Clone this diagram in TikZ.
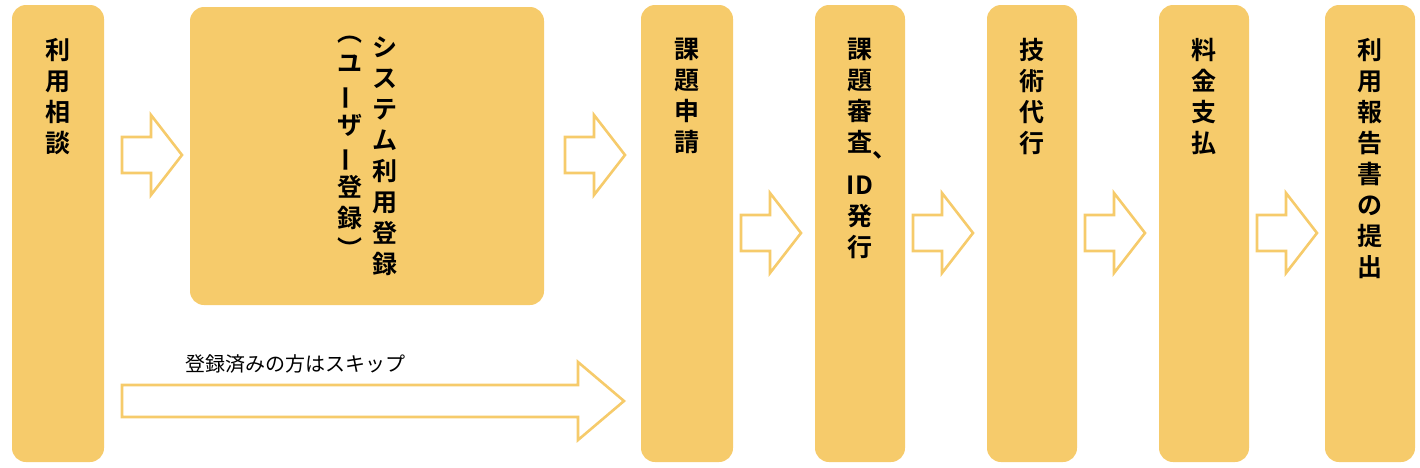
\documentclass[tikz,border=0pt]{standalone}
\usepackage{fontspec}
\usepackage{graphicx}
\newfontfamily\jpb{Noto Sans CJK JP Bold}
\newfontfamily\jp{Noto Sans CJK JP}
\definecolor{yel}{HTML}{F6CB6B}
\tikzset{
 box/.style={fill=yel,draw=none,rounded corners=14pt},
 vt/.style={anchor=north,align=center,font=\jpb\fontsize{25}{31}\selectfont,inner sep=0pt},
 barrow/.style={draw=yel,line width=2.6pt,fill=white,line join=miter}
}
\newcommand{\vl}{\rotatebox[origin=c]{90}{ー}}
\begin{document}
\begin{tikzpicture}[x=1pt,y=-1pt]
\useasboundingbox (0,0) rectangle (1420,467);
\fill[box] (12,5) rectangle (104,462);
\fill[box] (190,7) rectangle (544,305);
\fill[box] (641,5) rectangle (733,462);
\fill[box] (815,5) rectangle (905,462);
\fill[box] (987,5) rectangle (1077,462);
\fill[box] (1159,5) rectangle (1249,462);
\fill[box] (1325,5) rectangle (1415,462);
\node[vt] (t1) at (58,38) {利\\用\\相\\談};
\node[vt] (t2a) at (385,36) {シ\\ス\\テ\\ム\\利\\用\\登\\録};
\node[vt] (t2b) at (350,36) {︵\\ユ\\\vl\\ザ\\\vl\\登\\録\\︶};
\node[vt] (t3) at (687,38) {課\\題\\申\\請};
\node[vt] (t4) at (860,38) {課\\題\\審\\\makebox[0pt]{査\rlap{\raisebox{-6pt}{、}}}\\[12pt]ID\\発\\行};
\node[vt] (t5) at (1032,38) {技\\術\\代\\行};
\node[vt] (t6) at (1204,38) {料\\金\\支\\払};
\node[vt] (t7) at (1370,38) {利\\用\\報\\告\\書\\の\\提\\出};
\foreach \x/\y in {122/155,565/155,741/233,913/233,1085/233,1257/233}{
 \draw[barrow] (\x,\y-18) -- (\x+29,\y-18) -- (\x+29,\y-40) -- (\x+60,\y) -- (\x+29,\y+40) -- (\x+29,\y+18) -- (\x,\y+18) -- cycle;
}
\draw[barrow] (122,385) -- (578,385) -- (578,362) -- (624,401) -- (578,440) -- (578,417) -- (122,417) -- cycle;
\node[anchor=west,font=\jp\fontsize{20}{24}\selectfont,inner sep=0pt] (skip) at (185,364) {登録済みの方はスキップ};
\end{tikzpicture}
\end{document}
